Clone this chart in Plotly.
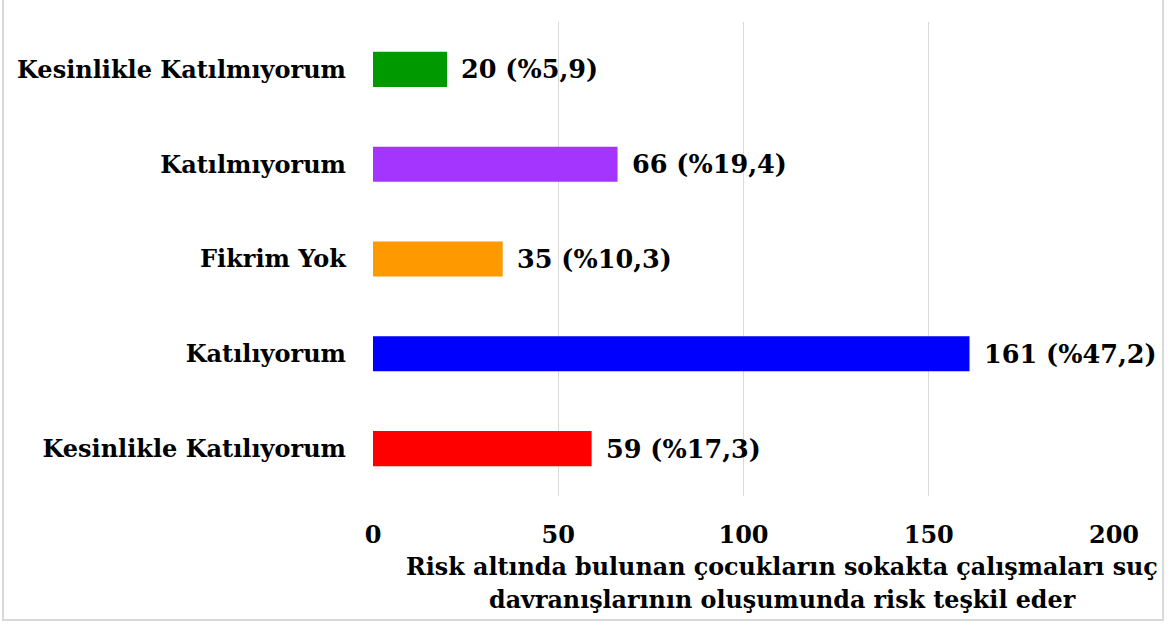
import plotly.graph_objects as go

# ===========================
# DATA
# ===========================

categories = [
    "Kesinlikle Katılıyorum",
    "Katılıyorum",
    "Fikrim Yok",
    "Katılmıyorum",
    "Kesinlikle Katılmıyorum",
]
counts = [59, 161, 35, 66, 20]
percents = ["17,3", "47,2", "10,3", "19,4", "5,9"]
colors = ["#FF0000", "#0000FF", "#FF9900", "#A335FF", "#009900"]
x_ticks = [0, 50, 100, 150, 200]

title_lines = [
    "Risk altında bulunan çocukların sokakta çalışmaları suç",
    "davranışlarının oluşumunda risk teşkil eder",
]

FONT = "DejaVu Serif"

# ===========================
# FIGURE
# ===========================

fig = go.Figure(
    go.Bar(
        x=counts,
        y=categories,
        orientation="h",
        marker=dict(color=colors, line=dict(width=0)),
        width=0.37,
        hoverinfo="skip",
    )
)

# value labels right of each bar
for c, p, cat in zip(counts, percents, categories):
    fig.add_annotation(
        x=c, y=cat, xref="x", yref="y",
        text=f"<b>{c} (%{p})</b>",
        showarrow=False, xanchor="left", xshift=12,
        font=dict(family=FONT, size=25.5, color="#000000"),
    )

# axis title, two lines, offset to the right like the original
for line, ypos in zip(title_lines, [-0.150, -0.220]):
    fig.add_annotation(
        x=0.552, y=ypos, xref="paper", yref="paper",
        text=f"<b>{line}</b>",
        showarrow=False, xanchor="center", yanchor="middle",
        font=dict(family=FONT, size=23.8, color="#000000"),
    )

# light frame round the chart
fig.add_shape(
    type="rect", xref="paper", yref="paper",
    x0=-0.4993, x1=1.0661, y0=-0.2616, y1=1.1,
    line=dict(color="#d9d9d9", width=2),
)

fig.update_layout(
    width=1172,
    height=626,
    margin=dict(l=373, r=58, t=22, b=130),
    paper_bgcolor="#ffffff",
    plot_bgcolor="#ffffff",
    showlegend=False,
    font=dict(family=FONT, color="#000000"),
    xaxis=dict(
        range=[0, 200],
        tickvals=x_ticks,
        ticktext=[f"<b>{t}</b>" for t in x_ticks],
        tickfont=dict(family=FONT, size=24),
        showgrid=True,
        gridcolor="#d9d9d9",
        gridwidth=1,
        zeroline=False,
        showline=False,
        ticks="",
        ticklabelstandoff=22,
        automargin=False,
    ),
    yaxis=dict(
        categoryorder="array",
        categoryarray=categories,
        tickvals=categories,
        ticktext=[f"<b>{c}</b>" for c in categories],
        tickfont=dict(family=FONT, size=24),
        showgrid=False,
        zeroline=False,
        showline=False,
        ticks="",
        ticklabelstandoff=26,
        automargin=False,
    ),
)

fig.write_html(
    "out.html",
    config={"displayModeBar": False},
    post_script="document.body.style.margin='0';",
)
